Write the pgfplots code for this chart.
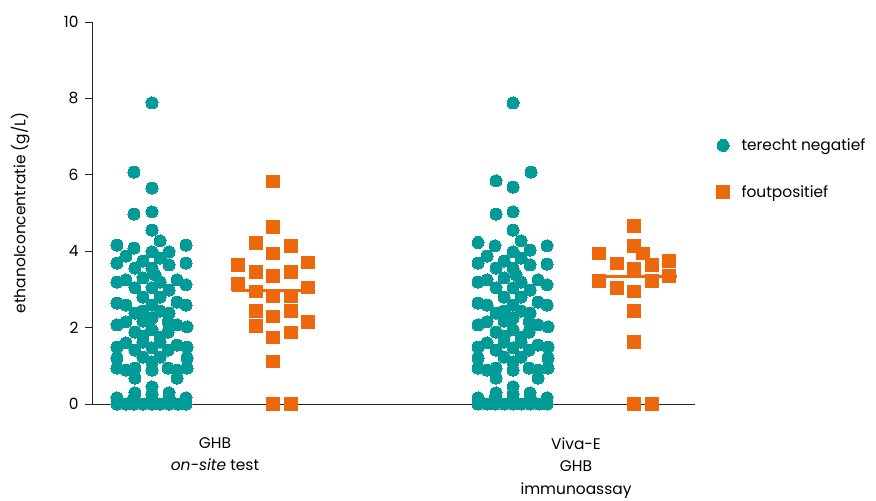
\documentclass[border=0pt]{standalone}
\usepackage{pgfplots}
\pgfplotsset{compat=1.18}
\usepackage{pgfplotstable}
\usepackage{fontspec}
\setmainfont{Poppins}
\definecolor{tealc}{RGB}{0,155,150}
\definecolor{orangec}{RGB}{237,104,13}

\pgfplotstableread{
x y
152 7.88
134 6.07
152 5.65
134 4.97
152 5.03
152 4.55
160 4.27
117 4.16
134 4.08
186 4.16
126 3.87
152 3.98
169 3.98
117 3.69
143 3.74
160 3.82
186 3.69
135 3.56
169 3.64
152 3.56
155 3.38
117 3.19
126 3.25
143 3.30
177 3.25
186 3.12
160 3.19
135 3.04
169 2.98
152 3.04
143 2.80
160 2.80
117 2.64
126 2.59
177 2.67
186 2.59
152 2.59
135 2.38
169 2.38
143 2.43
160 2.43
152 2.25
117 2.07
126 2.15
143 2.17
168 2.15
177 2.07
187 2.02
135 1.88
152 1.94
168 1.88
143 1.78
160 1.75
117 1.49
126 1.60
143 1.62
160 1.62
177 1.54
187 1.49
135 1.41
152 1.47
168 1.41
117 1.20
143 1.23
160 1.23
187 1.20
152 1.10
117 0.94
126 0.89
135 0.94
152 0.89
168 0.94
177 0.89
187 0.94
135 0.68
177 0.68
152 0.45
135 0.29
152 0.26
169 0.29
117 0.16
134 0.16
152 0.13
169 0.16
186 0.16
117 0
126 0
134 0
143 0
152 0
160 0
169 0
178 0
186 0
}\tealA

\pgfplotstableread{
x y
513 7.88
531 6.07
496 5.84
513 5.68
496 4.97
513 5.03
513 4.55
521 4.27
478 4.23
495 4.14
547 4.14
530 4.03
487 3.87
513 3.98
478 3.69
504 3.74
521 3.82
547 3.66
496 3.56
530 3.64
513 3.56
516 3.38
478 3.19
487 3.25
504 3.30
538 3.25
547 3.12
521 3.19
496 3.04
530 2.98
513 3.04
504 2.80
521 2.80
478 2.64
487 2.59
538 2.67
547 2.59
513 2.59
496 2.38
530 2.38
504 2.43
521 2.43
513 2.25
478 2.07
487 2.15
504 2.17
529 2.15
538 2.07
548 2.02
496 1.88
513 1.94
529 1.88
504 1.78
521 1.75
478 1.49
487 1.60
504 1.62
521 1.62
538 1.54
548 1.49
496 1.41
513 1.47
529 1.41
478 1.20
504 1.23
521 1.23
548 1.20
513 1.10
478 0.94
487 0.89
496 0.94
513 0.89
529 0.94
538 0.89
548 0.94
496 0.68
538 0.68
513 0.45
496 0.29
513 0.26
530 0.29
478 0.16
495 0.16
513 0.13
530 0.16
547 0.16
478 0
487 0
495 0
504 0
513 0
521 0
530 0
539 0
547 0
}\tealB

\pgfplotstableread{
x y
273 5.82
273 4.64
256 4.22
291 4.14
273 3.94
238 3.64
308 3.70
256 3.45
291 3.45
273 3.35
238 3.14
256 2.94
308 3.05
273 2.83
291 2.83
256 2.44
291 2.44
273 2.29
256 2.04
308 2.14
291 1.87
273 1.74
273 1.11
273 0
291 0
}\orangeA

\pgfplotstableread{
x y
634 4.66
599 3.94
634 4.14
643 3.94
617 3.68
652 3.64
669 3.74
634 3.53
599 3.22
652 3.22
669 3.35
617 3.03
634 2.94
634 2.43
634 1.63
634 0
652 0
}\orangeB

\begin{document}
\begin{tikzpicture}
\begin{axis}[
  at={(0,0)}, anchor=south west,
  scale only axis, width=603bp, height=382bp,
  xmin=92, xmax=695, ymin=0, ymax=10,
  clip=false, axis on top,
  axis x line=bottom, axis y line=left,
  axis line style={-, black!85, line width=0.8bp},
  ytick={0,2,4,6,8,10},
  xtick={215,576},
  xticklabels={{GHB\\\textit{on-site} test},{Viva-E\\GHB\\immunoassay}},
  xticklabel style={align=center, font=\fontsize{15.5}{22.5}\selectfont, yshift=-23bp},
  x tick style={draw=none},
  y tick style={black!85, line width=0.8bp},
  tick align=outside, major tick length=7bp,
  yticklabel style={font=\fontsize{15.5}{19}\selectfont, xshift=-3bp},
  /pgf/number format/assume math mode=true,
  ylabel={ethanolconcentratie (g/L)},
  ylabel style={font=\fontsize{15.5}{19}\selectfont, at={(axis description cs:-0.119,0.5)}, anchor=center},
  legend style={draw=none, fill=none, at={(axis description cs:1.036,0.70)}, anchor=north west,
    font=\fontsize{15.5}{19}\selectfont, row sep=29.5bp, column sep=10bp, inner sep=0pt},
  legend cell align=left,
]
\addplot[only marks, mark=*, mark size=6bp, mark options={draw=tealc, fill=tealc, line width=0pt}] table[x=x,y=y] {\tealA};
\addlegendentry{terecht negatief}
\addplot[only marks, mark=square*, mark size=6.3bp, mark options={draw=orangec, fill=orangec, line width=0pt}] table[x=x,y=y] {\orangeA};
\addlegendentry{foutpositief}
\addplot[forget plot, only marks, mark=*, mark size=6bp, mark options={draw=tealc, fill=tealc, line width=0pt}] table[x=x,y=y] {\tealB};
\addplot[forget plot, only marks, mark=square*, mark size=6.3bp, mark options={draw=orangec, fill=orangec, line width=0pt}] table[x=x,y=y] {\orangeB};
\addplot[forget plot, orangec, line width=3bp] coordinates {(232,2.96) (315,2.96)};
\addplot[forget plot, orangec, line width=3bp] coordinates {(592,3.35) (677,3.35)};
\end{axis}
\pgfresetboundingbox
\path (-92bp,-97bp) rectangle (784bp,404bp);
\end{tikzpicture}
\end{document}
